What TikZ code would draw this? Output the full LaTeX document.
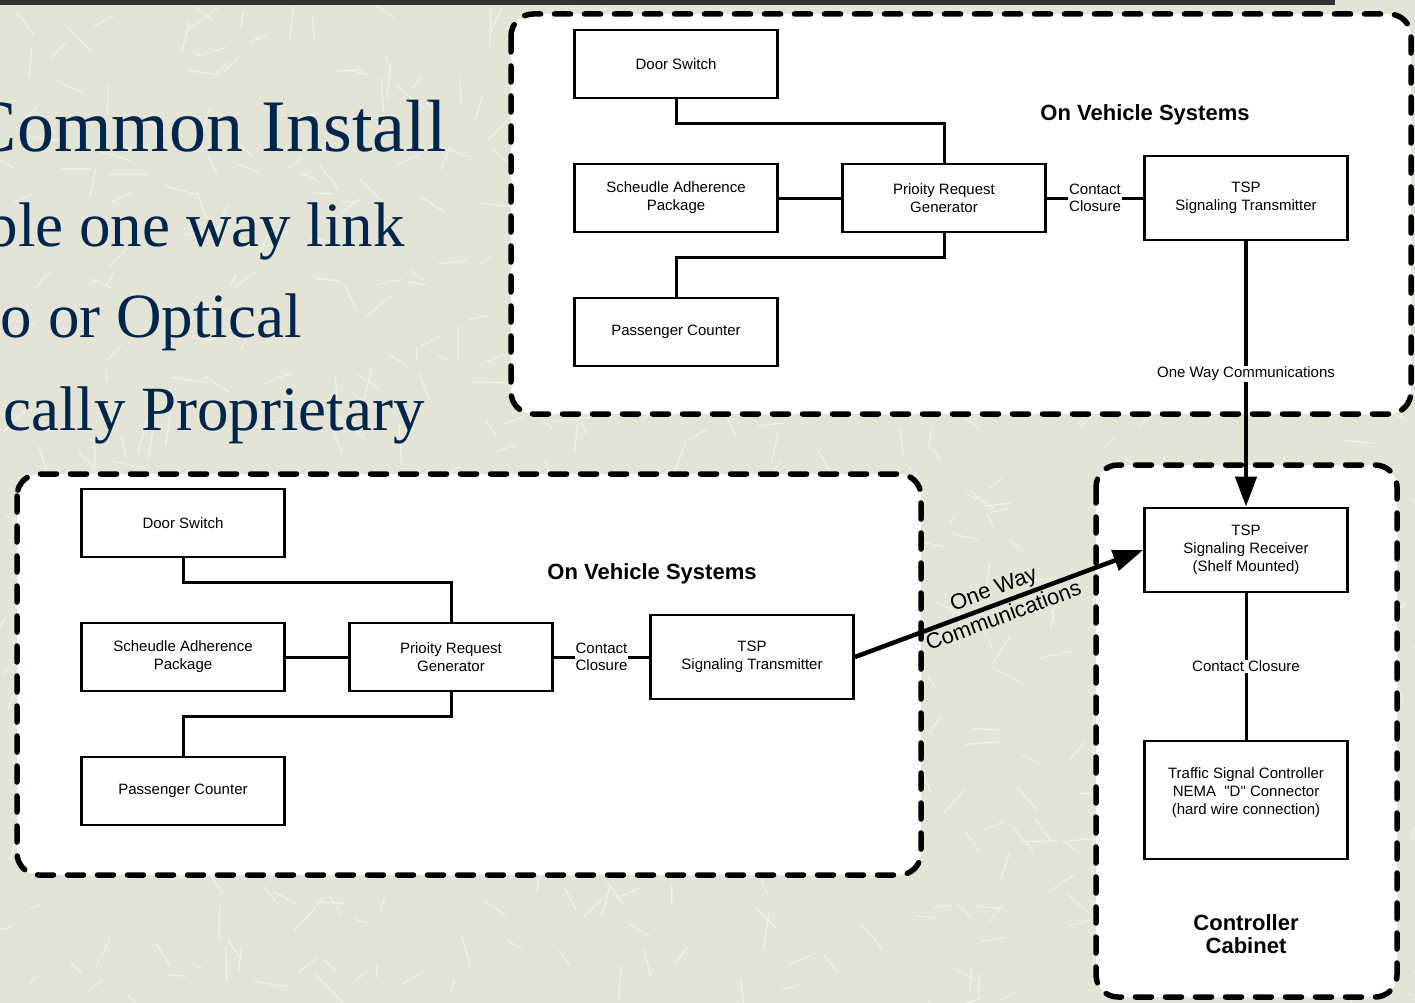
\documentclass[tikz,border=0pt]{standalone}
\usepackage{fontspec}
\setmainfont{Liberation Serif}
\setsansfont{Liberation Sans}[Ligatures=TeXOff]
\usetikzlibrary{arrows.meta}
\definecolor{paper}{RGB}{228,228,214}
\definecolor{fibre}{RGB}{240,240,228}
\definecolor{navy}{RGB}{0,38,77}
\definecolor{topbar}{RGB}{51,51,51}
\begin{document}
\begin{tikzpicture}[x=1pt, y=-1pt,
                    block/.style={draw, line width=2.8pt, fill=white, minimum width=203pt, minimum height=68pt,
                                  align=center, inner sep=2pt, font=\sffamily\fontsize{15}{18}\selectfont},
                    tsp block/.style={block, minimum height=84pt},
                    region/.style={draw, fill=white, line width=5.5pt, rounded corners=22pt,
                                   dash pattern=on 16pt off 14pt, line cap=round},
                    wire/.style={draw, line width=3pt},
                    comm/.style={line width=4.5pt, -{Triangle[length=30pt, width=21pt]}},
                    lbl/.style={fill=white, inner sep=1pt, align=center, font=\sffamily\fontsize{15}{17}\selectfont},
                    diag/.style={inner sep=2pt, font=\sffamily\fontsize{22}{22}\selectfont},
                    title/.style={align=center, font=\sffamily\bfseries\fontsize{22}{23}\selectfont},
                    bullet/.style={anchor=base east, inner sep=0pt, text=navy, font=\rmfamily\fontsize{63}{63}\selectfont}]

  \useasboundingbox (0,0) rectangle (1415,1003);
  \clip (0,0) rectangle (1415,1003);
  \fill[paper] (0,0) rectangle (1415,1003);
  \pgfmathsetseed{42}
  \foreach \i in {1,...,700}
    \draw[fibre, line width=1.3pt] (rnd*1415, rnd*1003) -- ++(rnd*360:10+rnd*30);
  \fill[topbar] (0,0) rectangle (1335,5);

  \node[bullet, font=\rmfamily\fontsize{74}{74}\selectfont] (t1) at (447,152) {Common Install};
  \node[bullet] (t2) at (405,246) {ble one way link};
  \node[bullet] (t3) at (302,337) {o or Optical};
  \node[bullet] (t4) at (425,430) {cally Proprietary};

  \draw[region] (511,14) rectangle (1411,414);
  \draw[region] (17,474) rectangle (921,875);
  \draw[region] (1096,465) rectangle (1397,997);

  \node[block] (door1) at (676,64) {Door Switch};
  \node[block] (sched1) at (676,198) {Scheudle Adherence\\Package};
  \node[block] (pass1) at (676,332) {Passenger Counter};
  \node[block] (prio1) at (944,198) {Prioity Request\\Generator};
  \node[tsp block] (tx1) at (1246,198) {TSP\\Signaling Transmitter};
  \node[title] (veh1) at (1145,115) {On Vehicle Systems};

  \node[block] (door2) at (183,523) {Door Switch};
  \node[block] (sched2) at (183,657) {Scheudle Adherence\\Package};
  \node[block] (pass2) at (183,791) {Passenger Counter};
  \node[block] (prio2) at (451,657) {Prioity Request\\Generator};
  \node[tsp block] (tx2) at (752,657) {TSP\\Signaling Transmitter};
  \node[title] (veh2) at (652,574) {On Vehicle Systems};

  \node[tsp block] (rx) at (1246,550) {TSP\\Signaling Receiver\\(Shelf Mounted)};
  \node[block, minimum height=118pt] (tsc) at (1246,800)
    {Traffic Signal Controller\\NEMA \ "D" Connector\\(hard wire connection)\\\mbox{}};
  \node[title] (cab) at (1246,934) {Controller\\Cabinet};

  \draw[wire] (door1.south) -- ++(0,24) -| (prio1.north);
  \draw[wire] (prio1.south) -- ++(0,24) -| (pass1.north);
  \draw[wire] (door2.south) -- ++(0,24) -| (prio2.north);
  \draw[wire] (prio2.south) -- ++(0,24) -| (pass2.north);

  \path[every edge/.append style={wire}]
  (sched1) edge (prio1)
  (prio1) edge node[lbl] (cc1) {Contact\\Closure} (tx1)
  (sched2) edge (prio2)
  (prio2) edge node[lbl] (cc2) {Contact\\Closure} (tx2)
  (rx) edge node[lbl] (cc3) {Contact Closure} (tsc);

  \draw[comm] (tx1.south) -- node[lbl] (ow1) {One Way Communications} (rx.north);
  \draw[comm] (tx2.east) -- node[diag, sloped, above] (ow2) {One Way}
                            node[diag, sloped, below] (cm2) {Communications} (rx.west);

\end{tikzpicture}
\end{document}
